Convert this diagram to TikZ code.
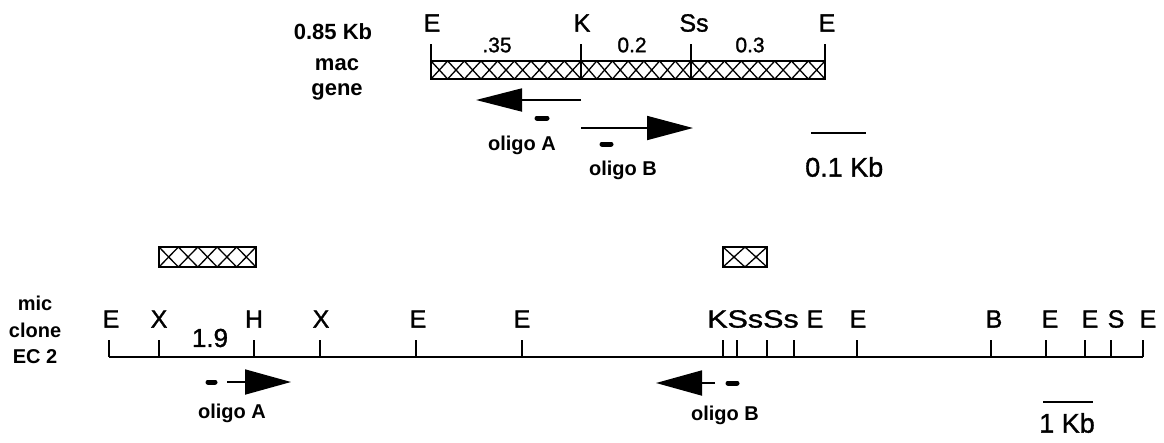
\documentclass[tikz,border=0pt]{standalone}
\usepackage{fontspec}
\setmainfont{Liberation Sans}
\newfontfamily\heavyfont[FakeBold=1.2]{Liberation Sans}
\usetikzlibrary{arrows.meta}
\tikzset{
  lbl/.style={font=\heavyfont\fontsize{25}{25}\selectfont, inner sep=0pt},
  numlbl/.style={font=\heavyfont\fontsize{21}{21}\selectfont, inner sep=0pt},
  sml/.style={font=\bfseries\fontsize{20}{20}\selectfont, inner sep=0pt},
  smlb/.style={font=\bfseries\fontsize{22}{22}\selectfont, inner sep=0pt},
  scl/.style={font=\heavyfont\fontsize{27}{27}\selectfont, inner sep=0pt},
  tick/.style={line width=1.6pt},
  mapline/.style={line width=2pt},
  hatch/.style={line width=1.3pt},
  boxline/.style={line width=2.2pt},
  bigarrow/.style={line width=1.8pt, -{Triangle[length=46pt,width=24pt]}},
  oligo/.style={line width=5pt, line cap=round},
}
\begin{document}
\begin{tikzpicture}[x=1pt,y=-1pt]
\useasboundingbox (0,0) rectangle (1164,442);
% ---------------- top: mac gene ----------------
\node[smlb] (t085) at (333,32) {0.85 Kb};
\node[smlb] (tmac) at (337,65) {mac};
\node[smlb] (tgene) at (337,92) {gene};
\node[lbl] (tE1) at (432,23) {E};
\node[lbl] (tK) at (582,23) {K};
\node[lbl] (tSs) at (694,23) {Ss};
\node[lbl] (tE2) at (827,23) {E};
\node[numlbl] (n35) at (497,45) {.35};
\node[numlbl] (n02) at (632,45) {0.2};
\node[numlbl] (n03) at (750,45) {0.3};
% hatch of the top box
\foreach \xa/\xb/\n in {431/581/9, 581/691/7, 691/825/8}{
  \pgfmathsetmacro{\w}{(\xb-\xa)/\n}
  \foreach \i in {1,...,\n}{
    \draw[hatch] ({\xa+(\i-1)*\w},79) -- ({\xa+\i*\w},61)
                 ({\xa+(\i-1)*\w},61) -- ({\xa+\i*\w},79);
  }
}
\draw[boxline] (431,61) rectangle (825,79);
\draw[tick] (431,44) -- (431,79) (581,44) -- (581,79) (691,44) -- (691,79) (825,44) -- (825,79);
% arrows & oligos
\coordinate (aAs) at (581,100); \coordinate (aAe) at (476,100);
\draw[bigarrow, -{Triangle[length=46pt,width=23pt]}] (aAs) -- (aAe);
\coordinate (aBs) at (581,128); \coordinate (aBe) at (693,128);
\draw[bigarrow] (aBs) -- (aBe);
\coordinate (dA1) at (537,118); \coordinate (dA2) at (547,118);
\draw[oligo] (dA1) -- (dA2);
\coordinate (dB1) at (602,144); \coordinate (dB2) at (611,144);
\draw[oligo] (dB1) -- (dB2);
\node[sml] (tolA) at (522,145) {oligo A};
\node[sml] (tolB) at (623,170) {oligo B};
% scale bar
\coordinate (sb1) at (811,133); \coordinate (sb2) at (866,133);
\draw[mapline] (sb1) -- (sb2);
\node[scl, anchor=west] (t01) at (805,167) {0.1 Kb};
% ---------------- bottom: mic clone ----------------
\node[sml] (bmic) at (35,303) {mic};
\node[sml] (bclone) at (35,330) {clone};
\node[sml] (bec) at (35,357) {EC 2};
% hatched boxes
\foreach \xa/\xb/\n in {159/256/5, 723/767/2}{
  \pgfmathsetmacro{\w}{(\xb-\xa)/\n}
  \foreach \i in {1,...,\n}{
    \draw[hatch] ({\xa+(\i-1)*\w},267) -- ({\xa+\i*\w},247)
                 ({\xa+(\i-1)*\w},247) -- ({\xa+\i*\w},267);
  }
  \draw[boxline] (\xa,247) rectangle (\xb,267);
}
% map line
\coordinate (mL) at (109,357); \coordinate (mR) at (1143,357);
\draw[mapline] (mL) -- (mR);
\foreach \x in {109,159,254,320,416,522,723,737,767,794,857,991,1046,1085,1111,1143}{
  \draw[tick] (\x,340) -- (\x,357);
}
\node[lbl] (bE1) at (111,319) {E};
\node[lbl] (bX1) at (159,319) {X};
\node[lbl] (bH) at (254,319) {H};
\node[lbl] (bX2) at (321,319) {X};
\node[lbl] (bE2) at (418,319) {E};
\node[lbl] (bE3) at (522,319) {E};
\node[lbl, anchor=west] (bKSs) at (707,319) {\scalebox{1.22}[1]{KSsSs}};
\node[lbl] (bE4) at (815,319) {E};
\node[lbl] (bE5) at (858,319) {E};
\node[lbl] (bB) at (994,319) {B};
\node[lbl] (bE6) at (1050,319) {E};
\node[lbl] (bE7) at (1090,319) {E};
\node[lbl] (bS) at (1116,319) {S};
\node[lbl] (bE8) at (1148,319) {E};
\node[lbl, font=\heavyfont\fontsize{26}{26}\selectfont] (b19) at (210,338) {1.9};
% arrows & oligos
\coordinate (cAs) at (227,382); \coordinate (cAe) at (291,382);
\draw[bigarrow, -{Triangle[length=46pt,width=25pt]}] (cAs) -- (cAe);
\coordinate (eA1) at (208,382); \coordinate (eA2) at (215,382);
\draw[oligo] (eA1) -- (eA2);
\coordinate (cBs) at (715,383); \coordinate (cBe) at (656,383);
\draw[bigarrow, -{Triangle[length=46pt,width=25pt]}] (cBs) -- (cBe);
\coordinate (eB1) at (728,383); \coordinate (eB2) at (737,383);
\draw[oligo] (eB1) -- (eB2);
\node[sml] (bolA) at (232,413) {oligo A};
\node[sml] (bolB) at (725,415) {oligo B};
% scale bar
\coordinate (sc1) at (1043,402); \coordinate (sc2) at (1093,402);
\draw[mapline] (sc1) -- (sc2);
\node[scl] (t1kb) at (1067,423) {1 Kb};
\end{tikzpicture}
\end{document}
